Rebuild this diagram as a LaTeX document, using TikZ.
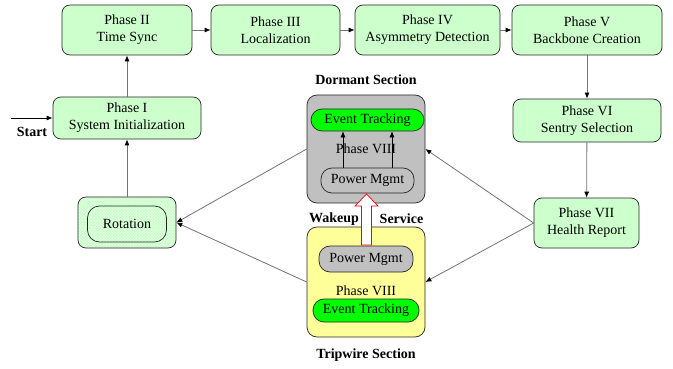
\documentclass[tikz,border=0pt]{standalone}
\usepackage{fontspec}
\setmainfont{Liberation Serif}
\usetikzlibrary{arrows.meta,patterns}
\definecolor{phasegreen}{RGB}{204,255,204}
\definecolor{dormgray}{RGB}{192,192,192}
\definecolor{tripyellow}{RGB}{255,255,153}
\definecolor{evgreen}{RGB}{0,255,0}
\tikzset{
  font={\fontsize{14pt}{16.8}\selectfont}}

\begin{document}
\begin{tikzpicture}[x=1pt,y=-1pt]
\tikzstyle{every node}+=[inner sep=0pt]
\tikzstyle{phase}=[draw=black!85, fill=phasegreen, rounded corners=8pt, align=center, minimum height=50pt, line width=0.7pt]
\tikzstyle{flow}=[draw=black!55, line width=0.8pt, -{Latex[black,length=6pt,width=5pt]}]
\tikzstyle{pill}=[draw=black!85, rounded corners=11pt, line width=0.7pt]
\tikzstyle{section}=[draw=black!85, rounded corners=10pt, minimum width=118pt, line width=0.7pt]
\tikzstyle{title}=[font={\fontsize{14pt}{16.8}\selectfont\bfseries}]
\useasboundingbox (0,0) rectangle (673,369);
% phases along the top
\node [phase, minimum width=130pt] (p2) at (127,30) {Phase II\\Time Sync};
\node [phase, minimum width=129pt] (p3) at (275.5,30) {Phase III\\Localization};
\node [phase, minimum width=145pt] (p4) at (427.5,30) {Phase IV\\Asymmetry Detection};
\node [phase, minimum width=150pt] (p5) at (587,30) {Phase V\\Backbone Creation};
\node [phase, minimum width=148pt, minimum height=43pt] (p6) at (587,120.5) {Phase VI\\Sentry Selection};
\node [phase, minimum width=105pt] (p7) at (586.5,223) {Phase VII\\Health Report};
\node [phase, minimum width=148pt, minimum height=42pt] (p1) at (127,118) {Phase I\\System Initialization};
% rotation
\node [phase, preaction={fill=phasegreen}, pattern=crosshatch dots, pattern color=white, minimum width=98pt, minimum height=51pt] (rotbox) at (127,222.5) {};
\node [draw=black!85, rounded corners=12pt, line width=0.7pt, minimum width=79pt, minimum height=36pt] (rot) at (127,224) {Rotation};
% sections
\node [section, fill=dormgray, minimum height=108pt] (dorm) at (366,149) {};
\node [section, fill=tripyellow, minimum height=110pt] (trip) at (366,282) {};
\node [pill, fill=evgreen, minimum width=113pt, minimum height=22pt] (evD) at (367.5,120) {Event Tracking};
\node (phD) at (366,149) {Phase VIII};
\node [pill, minimum width=93pt, minimum height=25pt] (pmD) at (367.5,180.5) {Power Mgmt};
\node [pill, fill=dormgray, minimum width=94pt, minimum height=26pt] (pmT) at (366,259) {Power Mgmt};
\node (phT) at (366,291) {Phase VIII};
\node [pill, fill=evgreen, minimum width=106pt, minimum height=23pt] (evT) at (366,310.5) {Event Tracking};
\node [title] (dormlbl) at (366,80) {Dormant Section};
\node [title] (triplbl) at (366,355) {Tripwire Section};
\node [title] (wake) at (334,219) {Wakeup};
\node [title] (serv) at (401.5,219) {Service};
\node [title] (startlbl) at (32,132) {Start};
\coordinate (start) at (11,118);
\coordinate (a1) at (343,0);
\coordinate (a2) at (392,0);
% connectors
\draw [flow, draw=black] (start) -- (p1);
\draw [flow] (p1) -- (p2);
\draw [flow] (rotbox) -- (p1);
\draw [flow] (p2) -- (p3);
\draw [flow] (p3) -- (p4);
\draw [flow] (p4) -- (p5);
\draw [flow] (p5) -- (p6);
\draw [flow] (p6) -- (p7);
\draw [flow] (p7.west) -- (dorm.east);
\draw [flow] (p7.west) -- (trip.east);
\draw [flow] (dorm.west) -- (rotbox.east);
\draw [flow] (trip.west) -- (rotbox.east);
\draw [flow, draw=black, line width=0.6pt] (a1 |- pmD.north) -- (a1 |- evD.south);
\draw [flow, draw=black, line width=0.6pt] (a2 |- pmD.north) -- (a2 |- evD.south);
% wakeup arrow
\draw [red, fill=white, line width=0.7pt] (361.5,245) -- (361.5,206) -- (355,206) -- (366.5,194) -- (378,206) -- (371.5,206) -- (371.5,245) -- cycle;
\end{tikzpicture}
\end{document}
